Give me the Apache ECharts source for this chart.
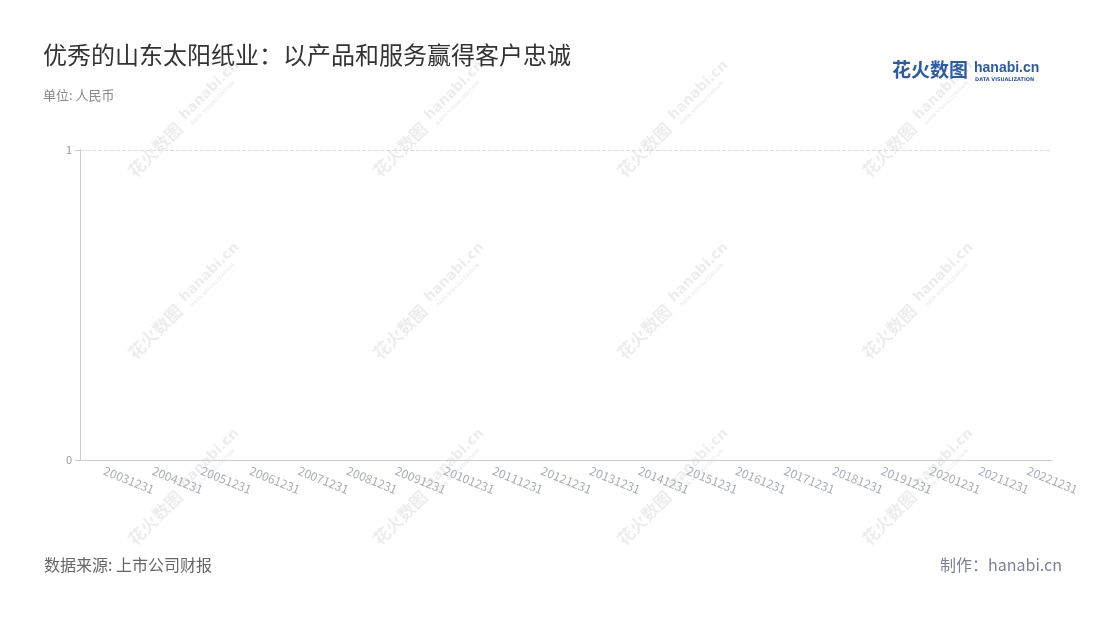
<!DOCTYPE html>
<html>
<head>
<meta charset="utf-8">
<script src="https://cdn.jsdelivr.net/npm/echarts@6/dist/echarts.min.js"></script>
<style>
  html, body { margin: 0; padding: 0; background: #fff; }
  #chart { width: 1100px; height: 620px; }
</style>
</head>
<body>
<div id="chart"></div>
<script>
// report dates on the x axis
const categories = ['20031231', '20041231', '20051231', '20061231', '20071231',
  '20081231', '20091231', '20101231', '20111231', '20121231', '20131231',
  '20141231', '20151231', '20161231', '20171231', '20181231', '20191231',
  '20201231', '20211231', '20221231'];

// the reference shows no values at all
const values = [null, null, null, null, null, null, null, null, null, null,
  null, null, null, null, null, null, null, null, null, null];

// y axis ticks
const yTicks = [0, 1];

const FONT = '"Noto Sans CJK SC", "Noto Sans", sans-serif';

// watermark grid
const wmX = [183, 428, 672, 917];
const wmY = [124, 306, 492];

function watermark(x, y) {
  const c = 'rgba(0,0,0,0.075)';
  return {
    type: 'group',
    x: x, y: y,
    rotation: Math.PI / 4,
    silent: true,
    children: [
      { type: 'text', x: -72, y: -10,
        style: { text: '花火数图', font: 'bold 17px ' + FONT, fill: c } },
      { type: 'text', x: 4, y: -12,
        style: { text: 'hanabi.cn', font: 'bold 14px "DejaVu Sans", sans-serif', fill: c } },
      { type: 'text', x: 6, y: 4,
        style: { text: 'DATA VISUALIZATION', font: 'bold 5px "DejaVu Sans", sans-serif', fill: c } }
    ]
  };
}

const graphics = [];
wmY.forEach(function (y) { wmX.forEach(function (x) { graphics.push(watermark(x, y)); }); });

// logo top right
graphics.push(
  { type: 'text', left: 892, top: 60,
    style: { text: '花火数图', font: 'bold 19px ' + FONT, fill: '#2b5ca8' } },
  { type: 'text', left: 974, top: 61,
    style: { text: 'hanabi.cn', font: 'bold 14px "Liberation Sans", sans-serif', fill: '#2b5ca8' } },
  { type: 'text', left: 975, top: 77,
    style: { text: 'DATA VISUALIZATION', font: 'bold 5px "DejaVu Sans", sans-serif', fill: '#2b5ca8' } },
  // footer
  { type: 'text', left: 44, top: 557,
    style: { text: '数据来源: 上市公司财报', font: '16px ' + FONT, fill: '#666' } },
  { type: 'text', right: 38, top: 557,
    style: { text: '制作：hanabi.cn', font: '16px ' + FONT, fill: '#7d8096' } }
);

const chart = echarts.init(document.getElementById('chart'));
chart.setOption({
  backgroundColor: '#fff',
  animation: false,
  textStyle: { fontFamily: FONT },
  title: {
    text: '优秀的山东太阳纸业：以产品和服务赢得客户忠诚',
    subtext: '单位: 人民币',
    left: 38,
    top: 38,
    itemGap: 22,
    textStyle: { fontSize: 24, fontWeight: 'normal', color: '#333', fontFamily: FONT },
    subtextStyle: { fontSize: 13, color: '#888', fontFamily: FONT }
  },
  grid: { left: 80, right: 48, top: 150, bottom: 160 },
  xAxis: {
    type: 'category',
    data: categories,
    boundaryGap: true,
    axisLine: { lineStyle: { color: '#ccc' } },
    axisTick: { alignWithLabel: true, lineStyle: { color: '#999' } },
    axisLabel: { rotate: -22, interval: 0, color: '#a9adbd', fontSize: 12, margin: 10 }
  },
  yAxis: {
    type: 'value',
    min: yTicks[0],
    max: yTicks[yTicks.length - 1],
    interval: 1,
    axisLine: { show: true, lineStyle: { color: '#ccc' } },
    axisTick: { show: true, lineStyle: { color: '#ccc' } },
    axisLabel: { color: '#999', fontSize: 11 },
    splitLine: { lineStyle: { type: 'dashed', color: '#ddd' } }
  },
  series: [{ type: 'bar', data: values }],
  graphic: graphics
});
</script>
</body>
</html>
